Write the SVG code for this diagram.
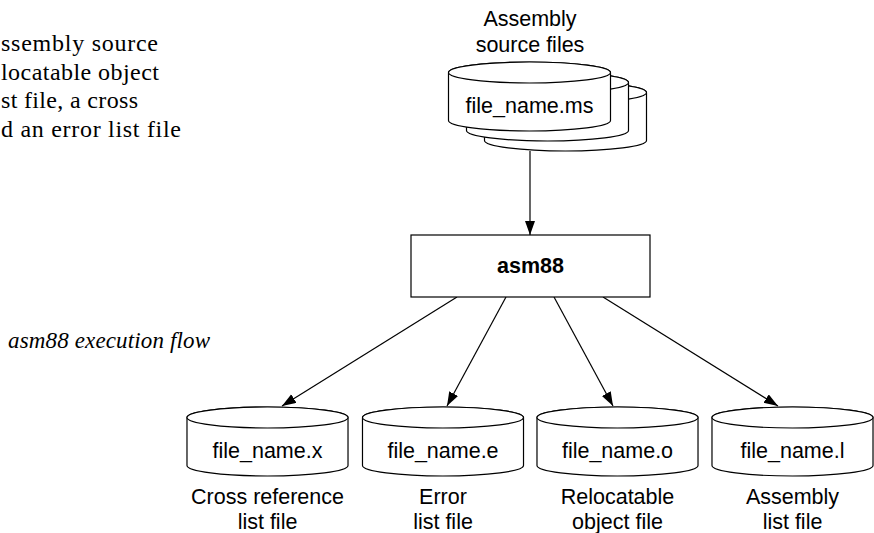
<svg xmlns="http://www.w3.org/2000/svg" width="874" height="533" viewBox="0 0 874 533">
  <defs>
    <style>
      .body { font-family: "Liberation Serif", "Times New Roman", serif; font-size: 24px; fill: #000; }
      .cap { font-family: "Liberation Serif", "Times New Roman", serif; font-size: 23px; font-style: italic; fill: #000; }
      .lbl { font-family: "Liberation Sans", Arial, sans-serif; font-size: 21.5px; fill: #000; text-anchor: middle; }
      .bold { font-weight: bold; }
      .shape { fill: #fff; stroke: #000; stroke-width: 1.2; }
      .edge { fill: none; stroke: #000; stroke-width: 1.2; marker-end: url(#arrow); }
    </style>
    <marker id="arrow" markerUnits="userSpaceOnUse" markerWidth="15" markerHeight="11" refX="14" refY="5" orient="auto">
      <path d="M0,0 L14,5 L0,10 Z" fill="#000"/>
    </marker>
    <!-- cylinder template centred on the origin: top ellipse at y=0, bottom at y=48 -->
    <g id="drum">
      <path class="shape" d="M-81,0 L-81,48 A81,10.5 0 0 0 81,48 L81,0 A81,10.5 0 0 0 -81,0 Z"/>
      <ellipse class="shape" cx="0" cy="0" rx="81" ry="10.5"/>
    </g>
  </defs>

  <!-- body text (left column, clipped by the page edge) -->
  <g id="paragraph">
    <text class="body" x="1" y="51" textLength="157" lengthAdjust="spacing">ssembly source</text>
    <text class="body" x="1" y="80" textLength="158" lengthAdjust="spacing">locatable object</text>
    <text class="body" x="1" y="108" textLength="137" lengthAdjust="spacing">st file, a cross</text>
    <text class="body" x="1" y="137" textLength="180" lengthAdjust="spacing">d an error list file</text>
  </g>
  <text id="caption" class="cap" x="8" y="348" textLength="202" lengthAdjust="spacing">asm88 execution flow</text>

  <!-- connectors -->
  <g id="connectors">
    <line class="edge" x1="530" y1="151" x2="530" y2="235"/>
    <line class="edge" x1="457" y1="297" x2="282" y2="406"/>
    <line class="edge" x1="506" y1="297" x2="447" y2="406"/>
    <line class="edge" x1="554" y1="297" x2="613" y2="406"/>
    <line class="edge" x1="603" y1="297" x2="778" y2="406"/>
  </g>

  <!-- stacked source files -->
  <g id="source-files">
    <text class="lbl" x="530" y="26">Assembly</text>
    <text class="lbl" x="530" y="52">source files</text>
    <use href="#drum" transform="translate(565.5,92.5)"/>
    <use href="#drum" transform="translate(547.5,82.5)"/>
    <use href="#drum" transform="translate(529.5,72.5)"/>
    <text class="lbl" x="529.5" y="113">file_name.ms</text>
  </g>

  <!-- assembler -->
  <g id="asm88">
    <rect class="shape" x="411" y="235" width="239" height="62"/>
    <text class="lbl bold" x="530.5" y="273">asm88</text>
  </g>

  <!-- output files -->
  <g id="xref-file">
    <g transform="translate(267.5,417.5) scale(0.994,1)"><use href="#drum"/></g>
    <text class="lbl" x="267.5" y="458">file_name.x</text>
    <text class="lbl" x="267.5" y="504">Cross reference</text>
    <text class="lbl" x="267.5" y="529">list file</text>
  </g>
  <g id="error-file">
    <g transform="translate(443,417.5) scale(0.994,1)"><use href="#drum"/></g>
    <text class="lbl" x="443" y="458">file_name.e</text>
    <text class="lbl" x="443" y="504">Error</text>
    <text class="lbl" x="443" y="529">list file</text>
  </g>
  <g id="object-file">
    <g transform="translate(617.5,417.5) scale(0.994,1)"><use href="#drum"/></g>
    <text class="lbl" x="617.5" y="458">file_name.o</text>
    <text class="lbl" x="617.5" y="504">Relocatable</text>
    <text class="lbl" x="617.5" y="529">object file</text>
  </g>
  <g id="list-file">
    <g transform="translate(792.5,417.5) scale(0.994,1)"><use href="#drum"/></g>
    <text class="lbl" x="792.5" y="458">file_name.l</text>
    <text class="lbl" x="792.5" y="504">Assembly</text>
    <text class="lbl" x="792.5" y="529">list file</text>
  </g>
</svg>
